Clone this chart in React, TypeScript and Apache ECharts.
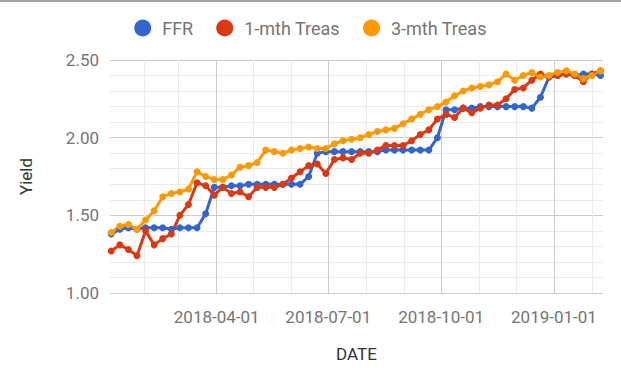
import React, { useEffect, useRef } from "react";
import * as echarts from "echarts";

const dates = [
  "2018-01-05","2018-01-12","2018-01-19","2018-01-26",
  "2018-02-02","2018-02-09","2018-02-16","2018-02-23",
  "2018-03-02","2018-03-09","2018-03-16","2018-03-23","2018-03-30",
  "2018-04-06","2018-04-13","2018-04-20","2018-04-27",
  "2018-05-04","2018-05-11","2018-05-18","2018-05-25",
  "2018-06-01","2018-06-08","2018-06-15","2018-06-22","2018-06-29",
  "2018-07-06","2018-07-13","2018-07-20","2018-07-27",
  "2018-08-03","2018-08-10","2018-08-17","2018-08-24","2018-08-31",
  "2018-09-07","2018-09-14","2018-09-21","2018-09-28",
  "2018-10-05","2018-10-12","2018-10-19","2018-10-26",
  "2018-11-02","2018-11-09","2018-11-16","2018-11-23","2018-11-30",
  "2018-12-07","2018-12-14","2018-12-21","2018-12-28",
  "2019-01-04","2019-01-11","2019-01-18","2019-01-25",
  "2019-02-01","2019-02-08",
];

const ffr = [
  1.38, 1.41, 1.42, 1.41, 1.42, 1.42, 1.42, 1.41, 1.42, 1.42, 1.42, 1.51, 1.68,
  1.68, 1.69, 1.69, 1.70, 1.70, 1.70, 1.70, 1.70, 1.70, 1.70, 1.75, 1.90, 1.91,
  1.91, 1.91, 1.91, 1.91, 1.91, 1.91, 1.92, 1.92, 1.92, 1.92, 1.92, 1.92, 2.00,
  2.18, 2.18, 2.19, 2.19, 2.20, 2.20, 2.20, 2.20, 2.20, 2.20, 2.19, 2.26, 2.39,
  2.40, 2.41, 2.40, 2.41, 2.41, 2.40,
];

const treas1m = [
  1.27, 1.31, 1.28, 1.24, 1.40, 1.31, 1.35, 1.38, 1.50, 1.57, 1.71, 1.69, 1.63,
  1.68, 1.64, 1.65, 1.62, 1.68, 1.68, 1.68, 1.70, 1.74, 1.78, 1.82, 1.83, 1.77,
  1.86, 1.87, 1.86, 1.90, 1.90, 1.92, 1.95, 1.95, 1.95, 1.98, 2.02, 2.05, 2.12,
  2.15, 2.13, 2.19, 2.16, 2.19, 2.21, 2.21, 2.25, 2.31, 2.32, 2.37, 2.41, 2.39,
  2.40, 2.41, 2.40, 2.36, 2.41, 2.43,
];

const treas3m = [
  1.39, 1.43, 1.44, 1.41, 1.47, 1.53, 1.62, 1.64, 1.65, 1.67, 1.78, 1.75, 1.73,
  1.73, 1.76, 1.81, 1.82, 1.84, 1.92, 1.91, 1.90, 1.92, 1.93, 1.94, 1.93, 1.93,
  1.96, 1.98, 1.99, 2.00, 2.02, 2.04, 2.05, 2.06, 2.09, 2.12, 2.15, 2.18, 2.20,
  2.23, 2.27, 2.30, 2.32, 2.33, 2.34, 2.36, 2.41, 2.37, 2.40, 2.42, 2.39, 2.40,
  2.42, 2.43, 2.41, 2.38, 2.40, 2.43,
];

const seriesNames = ["FFR", "1-mth Treas", "3-mth Treas"];
const seriesColors = ["#3366cc", "#dc3912", "#ff9900"];

const xLabelDates = ["2018-04-01", "2018-07-01", "2018-10-01", "2019-01-01"];
const xGridDates = [
  "2018-02-01","2018-03-01","2018-04-01","2018-05-01","2018-06-01","2018-07-01",
  "2018-08-01","2018-09-01","2018-10-01","2018-11-01","2018-12-01","2019-01-01",
  "2019-02-01",
];
const xMin = "2018-01-04";
const xMax = "2019-02-10";

function ts(s: string): number {
  const [y, m, d] = s.split("-").map(Number);
  return Date.UTC(y, m - 1, d);
}
function fmt(v: number): string {
  const d = new Date(v);
  const p = (n: number) => (n < 10 ? "0" + n : "" + n);
  return d.getUTCFullYear() + "-" + p(d.getUTCMonth() + 1) + "-" + p(d.getUTCDate());
}

const FONT = "Roboto";

export default function App() {
  const ref = useRef<HTMLDivElement>(null);
  useEffect(() => {
    if (!ref.current) return;
    const chart = echarts.init(ref.current, undefined, { renderer: "svg" });
    const allSeries = [ffr, treas1m, treas3m];
    chart.setOption({
      animation: false,
      backgroundColor: "#ffffff",
      textStyle: { fontFamily: FONT },
      color: seriesColors,
      graphic: [
        {
          type: "rect",
          left: 0,
          top: 0,
          shape: { width: 621, height: 2 },
          style: { fill: "#a3a3a3" },
          silent: true,
        },
      ],
      legend: {
        top: 14,
        left: "center",
        icon: "circle",
        itemWidth: 17,
        itemHeight: 17,
        itemGap: 23,
        textStyle: {
          fontFamily: FONT,
          fontSize: 18,
          color: "#757575",
          padding: [0, 0, 0, 6],
        },
        data: seriesNames,
      },
      grid: { left: 110, right: 18, top: 60, bottom: 91, containLabel: false },
      xAxis: {
        type: "value",
        min: ts(xMin),
        max: ts(xMax),
        name: "DATE",
        nameLocation: "middle",
        nameGap: 52,
        nameTextStyle: { fontFamily: FONT, fontSize: 17, color: "#333333" },
        axisLine: { show: false },
        axisTick: { show: false, customValues: xGridDates.map(ts) },
        axisLabel: {
          customValues: xLabelDates.map(ts),
          formatter: (v: number) => fmt(v),
          fontFamily: FONT,
          fontSize: 17,
          color: "#757575",
          margin: 15,
        },
        splitLine: {
          show: true,
          lineStyle: { color: ["#ebebeb", "#ebebeb", "#cccccc"], width: 1 },
        },
      },
      yAxis: {
        type: "value",
        min: 1,
        max: 2.5,
        interval: 0.5,
        name: "Yield",
        nameLocation: "middle",
        nameGap: 76,
        nameTextStyle: { fontFamily: FONT, fontSize: 17, color: "#333333" },
        axisLine: { show: false },
        axisTick: { show: false },
        axisLabel: {
          formatter: (v: number) => v.toFixed(2),
          fontFamily: FONT,
          fontSize: 17,
          color: "#757575",
          margin: 11,
        },
        splitLine: { show: true, lineStyle: { color: "#cccccc", width: 1 } },
        minorTick: { show: false, splitNumber: 5 },
        minorSplitLine: { show: true, lineStyle: { color: "#ebebeb", width: 1 } },
      },
      series: seriesNames.map((name, i) => ({
        name,
        type: "line",
        data: dates.map((d, j) => [ts(d), allSeries[i][j]]),
        symbol: "circle",
        symbolSize: 7,
        showSymbol: true,
        lineStyle: { width: 3, color: seriesColors[i] },
        itemStyle: { color: seriesColors[i] },
        emphasis: { disabled: true },
      })),
    });
    return () => chart.dispose();
  }, []);
  return (
    <div
      ref={ref}
      style={{ position: "fixed", left: 0, top: 0, width: 621, height: 384 }}
    />
  );
}
